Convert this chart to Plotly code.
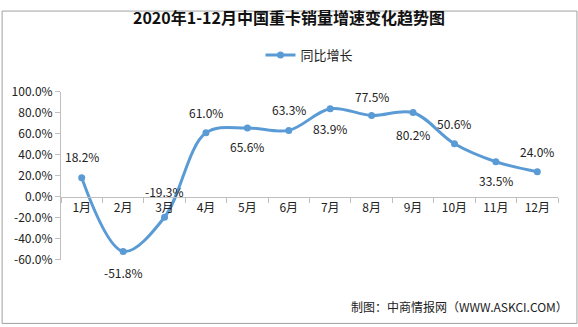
import plotly.graph_objects as go

months = ["1月", "2月", "3月", "4月", "5月", "6月", "7月", "8月", "9月", "10月", "11月", "12月"]
growth = [18.2, -51.8, -19.3, 61.0, 65.6, 63.3, 83.9, 77.5, 80.2, 50.6, 33.5, 24.0]
label_shift = [21, -21, 26, 20, -19, 21, -20, 19, -22, 20, -19, 20]
y_ticks = [-60, -40, -20, 0, 20, 40, 60, 80, 100]

W, H = 578, 327
ml, mr, mt, mb = 60, 20, 85, 67
font = "Noto Sans CJK SC"
color = "#5B9BD5"

fig = go.Figure()
fig.add_trace(go.Scatter(
    x=months, y=growth, mode="lines+markers", name="同比增长",
    line=dict(color=color, width=3, shape="spline", smoothing=1.0),
    marker=dict(color=color, size=7),
    cliponaxis=False,
))

annotations = [dict(x=m, y=v, text=f"{v:.1f}%", showarrow=False, yshift=s,
                    xanchor="center", yanchor="middle",
                    font=dict(family=font, size=12, color="#222"))
               for m, v, s in zip(months, growth, label_shift)]
annotations.append(dict(text="制图：中商情报网（WWW.ASKCI.COM）", xref="paper", yref="paper",
                        x=1 + (mr - 8) / (W - ml - mr), y=-(mb - 19) / (H - mt - mb),
                        xanchor="right", yanchor="middle", showarrow=False,
                        font=dict(family=font, size=12, color="#222")))

zero_pos = (0 - (-60)) / 160
fig.update_layout(
    width=W, height=H, margin=dict(l=ml, r=mr, t=mt, b=mb),
    paper_bgcolor="white", plot_bgcolor="white",
    title=dict(text="<b>2020年1-12月中国重卡销量增速变化趋势图</b>", x=0.5, xanchor="center",
               y=1 - 18 / H, yanchor="middle", font=dict(family=font, size=16, color="#111")),
    legend=dict(orientation="h", x=0.5, xanchor="center", y=1 - 55 / H, yanchor="middle",
                yref="container", font=dict(family=font, size=13, color="#222"), itemwidth=30),
    showlegend=True,
    xaxis=dict(type="category", anchor="free", position=zero_pos, showline=True, linecolor="#BFBFBF",
               ticks="outside", tickson="boundaries", ticklen=5, tickcolor="#BFBFBF",
               tickfont=dict(family=font, size=12, color="#222"), showgrid=False, zeroline=False,
               range=[-0.5, 11.5]),
    yaxis=dict(range=[-60, 100], tickvals=y_ticks, ticktext=[f"{v:.1f}%" for v in y_ticks],
               showline=True, linecolor="#BFBFBF", ticks="outside", ticklen=5, tickcolor="#BFBFBF",
               tickfont=dict(family=font, size=12, color="#222"), showgrid=False, zeroline=False),
    annotations=annotations,
    shapes=[dict(type="rect", xref="paper", yref="paper",
                 x0=-(ml - 1) / (W - ml - mr), x1=1 + (mr - 1) / (W - ml - mr),
                 y0=-(mb - 1) / (H - mt - mb), y1=1 + (mt - 1) / (H - mt - mb),
                 line=dict(color="#A0A0A0", width=1))],
)
fig.write_html("out.html")
